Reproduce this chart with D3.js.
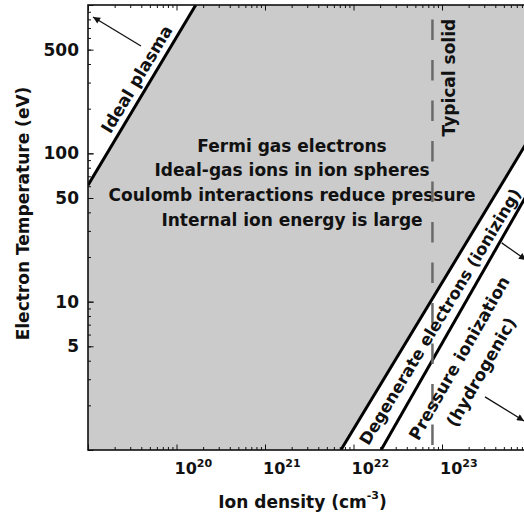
<!DOCTYPE html>
<html>
<head>
<meta charset="utf-8">
<script src="https://cdnjs.cloudflare.com/ajax/libs/d3/7.8.5/d3.min.js"></script>
<style>
  body { margin: 0; background: #fff; }
  svg { display: block; }
  svg text { font-family: 'DejaVu Sans', sans-serif; font-weight: bold; fill: #111; }
</style>
</head>
<body>
<svg width="524" height="515"></svg>
<script>
// axis extents: ion density (cm^-3) and electron temperature (eV)
const densityDomain = [1e19, 1e24]
const tempDomain = [1, 1000]

const densityTicks = [1e20, 1e21, 1e22, 1e23]
const densityExponents = ['20', '21', '22', '23']
const tempTicks = [5, 10, 50, 100, 500]
const minorSteps = [2, 3, 4, 5, 6, 7, 8, 9]

// region boundaries, as [density, temperature]
const idealPlasma = [[1e19, 61], [1.65e20, 1000]]
const degenerate = [[7.2e21, 1], [1e24, 130]]
const pressureIonization = [[2.05e22, 1], [1e24, 58]]
const typicalSolid = [[7.8e22, 800], [7.8e22, 1]]

const centerLines = [
  'Fermi gas electrons',
  'Ideal-gas ions in ion spheres',
  'Coulomb interactions reduce pressure',
  'Internal ion energy is large'
]
const centerAt = [2.02e21, 102.6]

const boundaryLabels = [
  { text: 'Ideal plasma', at: [3.53e19, 317], along: idealPlasma, size: 17 },
  { text: 'Degenerate electrons (ionizing)', at: [9.49e22, 7.93], along: degenerate, size: 16.5 },
  { text: 'Pressure ionization', at: [1.56e23, 4.17], along: pressureIonization, size: 17 },
  { text: '(hydrogenic)', at: [2.76e23, 3.36], along: pressureIonization, size: 17 }
]
const solidLabel = { text: 'Typical solid', at: [1.19e23, 324] }

// annotation arrows, [from, to]
const arrows = [
  [[3.97e19, 529], [1.14e19, 830]],
  [[4.73e23, 24.9], [8.9e23, 19.1]],
  [[3.06e23, 2.28], [8.45e23, 1.57]]
]

let svg = d3.select('svg')
let margin = { top: 5, left: 88, bottom: 65 }
let height = +svg.attr('height') - margin.bottom

let x = d3.scaleLog().domain(densityDomain).range([margin.left, margin.left + 5 * 88.5])
let y = d3.scaleLog().domain(tempDomain).range([height, margin.top])

let px = d => [x(d[0]), y(d[1])]
let line = d3.line().x(d => x(d[0])).y(d => y(d[1]))

let defs = svg.append('defs')
defs.append('clipPath').attr('id', 'plot')
  .append('rect')
  .attr('x', x.range()[0]).attr('y', y.range()[1])
  .attr('width', x.range()[1] - x.range()[0])
  .attr('height', y.range()[0] - y.range()[1])
defs.append('marker')
  .attr('id', 'head')
  .attr('viewBox', '0 0 10 10')
  .attr('refX', 10).attr('refY', 5)
  .attr('markerUnits', 'userSpaceOnUse')
  .attr('markerWidth', 9).attr('markerHeight', 7)
  .attr('orient', 'auto')
  .append('path').attr('d', 'M0,0L10,5L0,10Z').attr('fill', '#111')

let plot = svg.append('g').attr('clip-path', 'url(#plot)')

// gray region between the ideal-plasma and degeneracy boundaries
let region = [
  idealPlasma[0], idealPlasma[1], [densityDomain[1], tempDomain[1]],
  degenerate[1], degenerate[0], [densityDomain[0], tempDomain[0]]
]
plot.append('path')
  .attr('d', line(region) + 'Z')
  .attr('fill', '#cbcbcb')

// text in the gray region
let block = plot.append('text')
  .attr('x', x(centerAt[0])).attr('y', y(centerAt[1]))
  .attr('text-anchor', 'middle')
  .attr('font-size', 17)
block.selectAll('tspan')
  .data(centerLines)
  .enter()
  .append('tspan')
  .attr('x', x(centerAt[0]))
  .attr('dy', (d, i) => i === 0 ? 0 : 24.7)
  .text(d => d)

plot.selectAll('.boundary')
  .data([idealPlasma, degenerate, pressureIonization])
  .enter()
  .append('path')
  .attr('class', 'boundary')
  .attr('d', line)
  .attr('fill', 'none')
  .attr('stroke', '#000')
  .attr('stroke-width', 3)

plot.append('path')
  .attr('d', line(typicalSolid))
  .attr('fill', 'none')
  .attr('stroke', '#6a6a6a')
  .attr('stroke-width', 2.5)
  .attr('stroke-dasharray', '20.5 20')

svg.selectAll('.blabel')
  .data(boundaryLabels)
  .enter()
  .append('text')
  .attr('class', 'blabel')
  .attr('transform', d => {
    let a = px(d.along[0]), b = px(d.along[1])
    let angle = Math.atan2(b[1] - a[1], b[0] - a[0]) * 180 / Math.PI
    let p = px(d.at)
    return 'translate(' + p[0] + ',' + p[1] + ') rotate(' + angle + ')'
  })
  .attr('text-anchor', 'middle')
  .attr('dy', '0.36em')
  .attr('font-size', d => d.size)
  .text(d => d.text)

svg.append('text')
  .attr('transform', 'translate(' + px(solidLabel.at) + ') rotate(-90)')
  .attr('text-anchor', 'middle')
  .attr('dy', '0.36em')
  .attr('font-size', 17)
  .text(solidLabel.text)

plot.selectAll('.arrow')
  .data(arrows)
  .enter()
  .append('path')
  .attr('class', 'arrow')
  .attr('d', line)
  .attr('stroke', '#111')
  .attr('stroke-width', 1.3)
  .attr('marker-end', 'url(#head)')

// frame ticks, drawn inward
let minorDensity = d3.range(19, 24).flatMap(k => minorSteps.map(m => m * Math.pow(10, k)))
let minorTemp = d3.range(0, 3).flatMap(k => minorSteps.map(m => m * Math.pow(10, k)))
let majorDensity = d3.range(19, 25).map(k => Math.pow(10, k))
let majorTemp = [1, 10, 100, 1000]

function ticks (axis, pos, values, size) {
  svg.append('g')
    .attr('transform', pos)
    .call(axis.tickValues(values).tickSize(size).tickFormat(''))
    .call(g => g.select('.domain').remove())
    .selectAll('line').attr('stroke', '#111')
}
ticks(d3.axisBottom(x), 'translate(0,' + y(1) + ')', minorDensity, -3)
ticks(d3.axisBottom(x), 'translate(0,' + y(1) + ')', majorDensity, -5.5)
ticks(d3.axisTop(x), 'translate(0,' + y(1000) + ')', minorDensity, -3)
ticks(d3.axisTop(x), 'translate(0,' + y(1000) + ')', majorDensity, -5.5)
ticks(d3.axisLeft(y), 'translate(' + x(1e19) + ',0)', minorTemp, -3)
ticks(d3.axisLeft(y), 'translate(' + x(1e19) + ',0)', majorTemp, -5.5)

svg.append('g')
  .attr('transform', 'translate(' + x(1e19) + ',0)')
  .call(d3.axisLeft(y).tickValues(tempTicks).tickSize(-5.5).tickPadding(9).tickFormat(d3.format('d')))
  .call(g => g.select('.domain').remove())
  .attr('font-size', 17)
  .selectAll('line').attr('stroke', '#111')

let xl = svg.append('g')
  .selectAll('text')
  .data(densityTicks)
  .enter()
  .append('text')
  .attr('x', d => x(d) - 2)
  .attr('y', 473.5)
  .attr('font-size', 16)
xl.append('tspan').text('10')
xl.append('tspan')
  .attr('dy', -6.5)
  .attr('font-size', 11)
  .text((d, i) => densityExponents[i])

svg.append('rect')
  .attr('x', x.range()[0]).attr('y', y.range()[1])
  .attr('width', x.range()[1] - x.range()[0])
  .attr('height', y.range()[0] - y.range()[1])
  .attr('fill', 'none')
  .attr('stroke', '#111')
  .attr('stroke-width', 1.6)

// axis titles
let xt = svg.append('text')
  .attr('x', 302.5).attr('y', 507.5)
  .attr('text-anchor', 'middle')
  .attr('font-size', 17)
xt.append('tspan').text('Ion density (cm')
xt.append('tspan').attr('dy', -9).attr('font-size', 11).text('-3')
xt.append('tspan').attr('dy', 9).text(')')

svg.append('text')
  .attr('transform', 'translate(29,213.5) rotate(-90)')
  .attr('text-anchor', 'middle')
  .attr('font-size', 17)
  .text('Electron Temperature (eV)')
</script>
</body>
</html>
